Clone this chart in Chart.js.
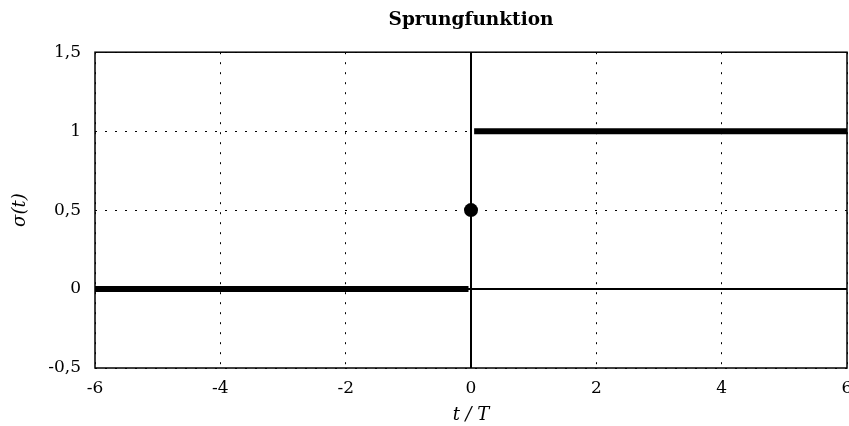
<!DOCTYPE html>
<html>
<head>
<meta charset="utf-8">
<script src="https://cdn.jsdelivr.net/npm/chart.js@4.4.1/dist/chart.umd.min.js"></script>
<style>
  html, body { margin: 0; padding: 0; background: #fff; }
  #wrap { width: 849px; height: 426px; }
</style>
</head>
<body>
<div id="wrap"><canvas id="chart" width="849" height="426"></canvas></div>
<script>
// step function sigma(t)
const lowT = [-6, -0.04];
const lowY = [0, 0];
const highT = [0.05, 6];
const highY = [1, 1];
const jumpT = [0];
const jumpY = [0.5];

const xTicks = [-6, -4, -2, 0, 2, 4, 6];
const yTicks = [-0.5, 0, 0.5, 1, 1.5];

const SERIF = "'DejaVu Serif', 'Liberation Serif', serif";

function toPoints(xs, ys) {
  return xs.map((x, i) => ({ x, y: ys[i] }));
}

function fmtComma(v) {
  return String(v).replace(".", ",");
}

// zero axes and the frame round the plot
const axesPlugin = {
  id: "axes",
  beforeDatasetsDraw(chart) {
    const { ctx, chartArea: a, scales } = chart;
    const x0 = Math.round(scales.x.getPixelForValue(0));
    const y0 = Math.round(scales.y.getPixelForValue(0));
    ctx.save();
    ctx.strokeStyle = "#000";
    ctx.setLineDash([]);
    ctx.lineWidth = 2;
    ctx.beginPath();
    ctx.moveTo(x0, a.top); ctx.lineTo(x0, a.bottom);
    ctx.moveTo(a.left, y0); ctx.lineTo(a.right, y0);
    ctx.stroke();
    ctx.lineWidth = 1.5;
    ctx.strokeRect(a.left, a.top, a.right - a.left, a.bottom - a.top);
    ctx.restore();
  }
};

const ctx = document.getElementById("chart").getContext("2d");
new Chart(ctx, {
  type: "scatter",
  data: {
    datasets: [
      { data: toPoints(lowT, lowY), showLine: true, borderColor: "#000", borderWidth: 6, pointRadius: 0, borderCapStyle: "butt" },
      { data: toPoints(highT, highY), showLine: true, borderColor: "#000", borderWidth: 6, pointRadius: 0, borderCapStyle: "butt" },
      { data: toPoints(jumpT, jumpY), showLine: false, pointRadius: 7, backgroundColor: "#000", borderColor: "#000", borderWidth: 0 },
    ],
  },
  options: {
    responsive: false,
    animation: false,
    layout: { autoPadding: false, padding: { right: 2, left: 0, top: 0, bottom: 0 } },
    plugins: {
      legend: { display: false },
      tooltip: { enabled: false },
      title: {
        display: true,
        fullSize: false,
        text: "Sprungfunktion",
        color: "#000",
        font: { family: SERIF, size: 18.5, weight: "bold" },
        padding: { top: 9, bottom: 21 },
      },
    },
    scales: {
      x: {
        type: "linear",
        min: -6, max: 6,
        afterFit(s) { s.height = 58; s.paddingLeft = 0; s.paddingRight = 0; },
        afterBuildTicks(s) { s.ticks = xTicks.map(v => ({ value: v })); },
        ticks: { color: "#000", font: { family: SERIF, size: 17 }, padding: 10, maxRotation: 0, callback: v => fmtComma(v) },
        grid: { color: "#000", lineWidth: 1, drawTicks: false },
        border: { display: false, dash: [2, 8] },
        title: { display: true, text: "t / T", color: "#000", font: { family: SERIF, size: 18, style: "italic" }, padding: { top: 0, bottom: 0 } },
      },
      y: {
        type: "linear",
        min: -0.5, max: 1.5,
        afterFit(s) { s.width = 95; s.paddingTop = 0; s.paddingBottom = 0; },
        afterBuildTicks(s) { s.ticks = yTicks.map(v => ({ value: v })); },
        ticks: { color: "#000", font: { family: SERIF, size: 17 }, padding: 14, callback: v => fmtComma(v) },
        grid: { color: "#000", lineWidth: 1, drawTicks: false },
        border: { display: false, dash: [2, 8] },
        title: { display: true, text: "σ(t)", color: "#000", font: { family: SERIF, size: 18, style: "italic" }, padding: { top: 10, bottom: 0 } },
      },
    },
  },
  plugins: [axesPlugin],
});
</script>
</body>
</html>
